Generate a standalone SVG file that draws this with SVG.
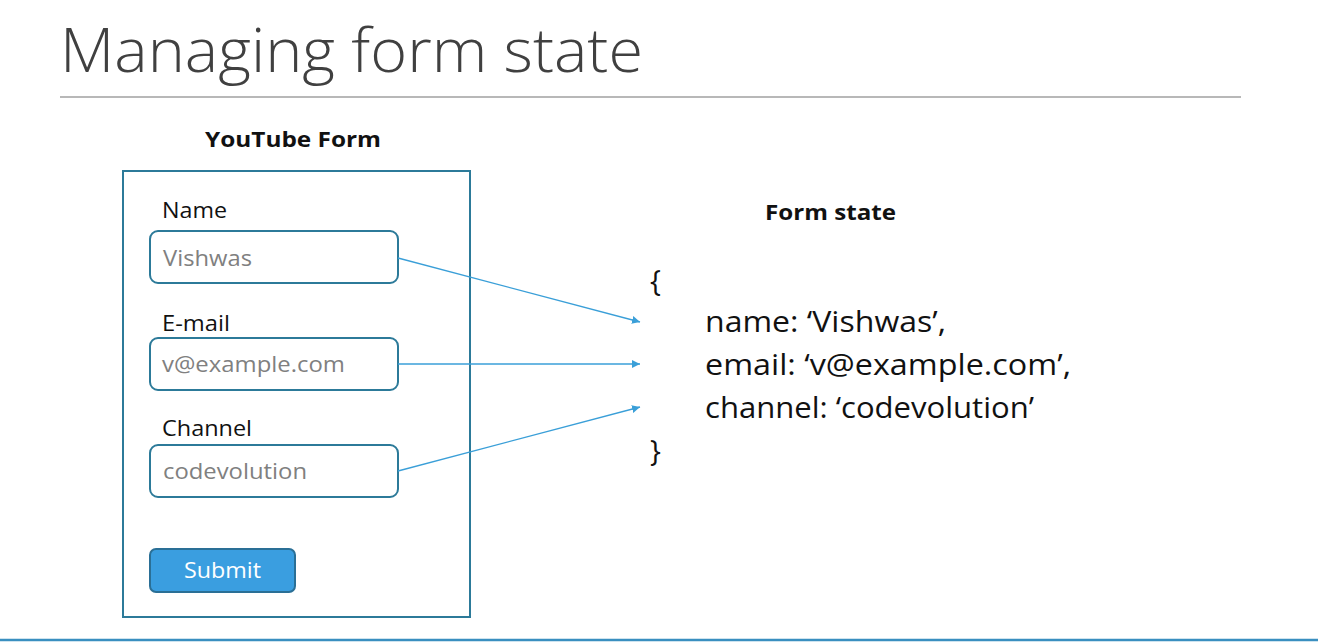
<svg xmlns="http://www.w3.org/2000/svg" width="1318" height="642" viewBox="0 0 1318 642">
<defs>
<marker id="ah" viewBox="0 0 10 10" refX="10" refY="5" markerWidth="8" markerHeight="8" markerUnits="userSpaceOnUse" orient="auto"><path d="M0,0 L10,5 L0,10 z" fill="#3a9fd8"/></marker>
<style>
.lbl{font-family:"Open Sans","Liberation Sans",sans-serif;font-size:21px;fill:#111}
.val{font-family:"Open Sans","Liberation Sans",sans-serif;font-size:21px;fill:#808080}
.inp{fill:#fff;stroke:#2c7a99;stroke-width:2}
.hd{font-family:"Open Sans","Liberation Sans",sans-serif;font-size:22px;font-weight:bold;fill:#111}
.code{font-family:"Open Sans","Liberation Sans",sans-serif;font-size:29px;fill:#111}
.conn{stroke:#3a9fd8;stroke-width:1.3;fill:none}
</style>
</defs>
<rect width="1318" height="642" fill="#fff"/>
<g id="title">
<text x="60" y="72" font-family="Open Sans, Liberation Sans, sans-serif" font-weight="300" font-size="60" fill="#404040" textLength="583" lengthAdjust="spacingAndGlyphs">Managing form state</text>
<line x1="60" y1="97" x2="1241" y2="97" stroke="#a0a0a0" stroke-width="1.5"/>
</g>
<g id="form">
<text class="hd" x="205" y="147" textLength="176" lengthAdjust="spacingAndGlyphs">YouTube Form</text>
<rect x="123" y="171" width="347" height="446" fill="none" stroke="#2c7a99" stroke-width="2"/>
</g>
<g id="name-field">
<text class="lbl" x="162" y="218" textLength="65" lengthAdjust="spacingAndGlyphs">Name</text>
<rect class="inp" x="150" y="231" width="248" height="52" rx="8"/>
<text class="val" x="163" y="266" textLength="89" lengthAdjust="spacingAndGlyphs">Vishwas</text>
</g>
<g id="email-field">
<text class="lbl" x="162" y="331" textLength="68" lengthAdjust="spacingAndGlyphs">E-mail</text>
<rect class="inp" x="150" y="338" width="248" height="52" rx="8"/>
<text class="val" x="162" y="372" textLength="183" lengthAdjust="spacingAndGlyphs">v@example.com</text>
</g>
<g id="channel-field">
<text class="lbl" x="162" y="436" textLength="90" lengthAdjust="spacingAndGlyphs">Channel</text>
<rect class="inp" x="150" y="445" width="248" height="52" rx="8"/>
<text class="val" x="163" y="479" textLength="144" lengthAdjust="spacingAndGlyphs">codevolution</text>
</g>
<g id="submit">
<rect x="150" y="549" width="145" height="43" rx="6" fill="#3a9ee0" stroke="#2a6f96" stroke-width="2"/>
<text x="184" y="578" font-family="Open Sans, Liberation Sans, sans-serif" font-size="21" fill="#fff" textLength="77" lengthAdjust="spacingAndGlyphs">Submit</text>
</g>
<g id="connectors">
<line class="conn" x1="398" y1="258" x2="640" y2="322" marker-end="url(#ah)"/>
<line class="conn" x1="398" y1="364" x2="640" y2="364" marker-end="url(#ah)"/>
<line class="conn" x1="398" y1="471" x2="640" y2="407" marker-end="url(#ah)"/>
</g>
<g id="form-state">
<text class="hd" x="765" y="220" textLength="131" lengthAdjust="spacingAndGlyphs">Form state</text>
<text class="code" x="650" y="291">{</text>
<text class="code" x="705" y="332" textLength="241" lengthAdjust="spacingAndGlyphs">name: ‘Vishwas’,</text>
<text class="code" x="705" y="375" textLength="366" lengthAdjust="spacingAndGlyphs">email: ‘v@example.com’,</text>
<text class="code" x="705" y="418" textLength="329" lengthAdjust="spacingAndGlyphs">channel: ‘codevolution’</text>
<text class="code" x="650" y="461">}</text>
</g>
<line x1="0" y1="640" x2="1318" y2="640" stroke="#3a8fc0" stroke-width="2.5"/>
</svg>
